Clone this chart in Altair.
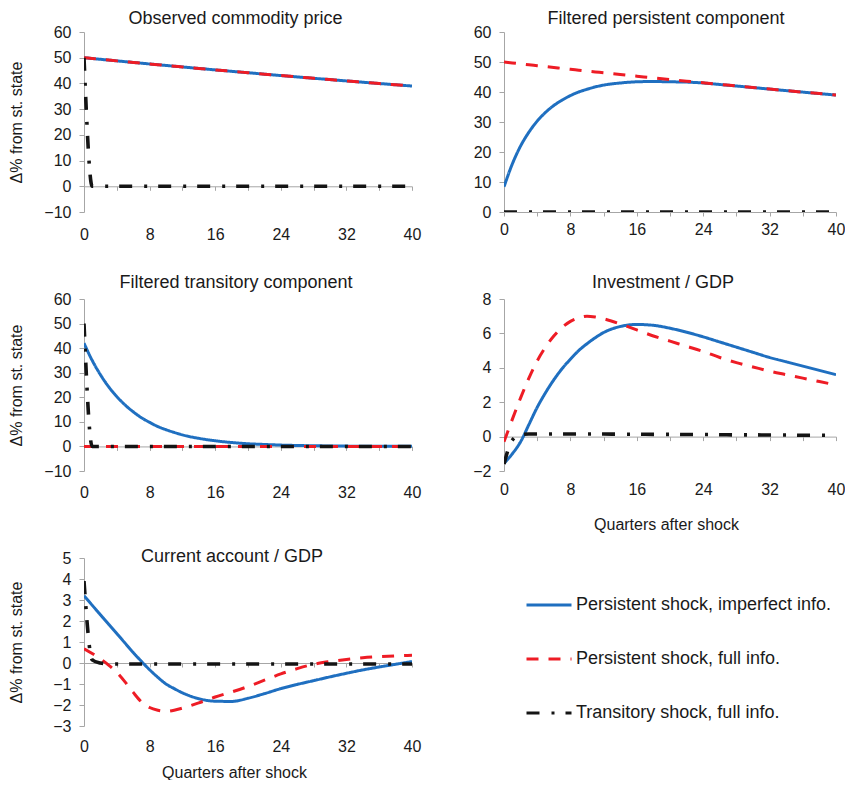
import altair as alt
import pandas as pd

FONT = "Liberation Sans"
TEXT = "#1a1a1a"
AXIS = "#a6a6a6"

QUARTERS = [0, 1, 2, 3, 4, 5, 6, 7, 8, 9, 10, 11, 12, 14, 16, 18, 20, 22, 24, 26, 28, 30, 32, 34, 36, 38, 40]

SERIES = ["Persistent shock, imperfect info.", "Persistent shock, full info.", "Transitory shock, full info."]
COLORS = ["#1f6fc0", "#ee1c25", "#141414"]
DASHES = [[1, 0], [12, 10], [13, 12, 3, 11]]
WIDTHS = [3, 3, 3.6]

# Observed commodity price
price_imperfect = [50.0, 49.69, 49.38, 49.07, 48.77, 48.47, 48.17, 47.87, 47.57, 47.28, 46.99, 46.70, 46.41,
                   45.83, 45.27, 44.71, 44.16, 43.61, 43.07, 42.54, 42.01, 41.49, 40.98, 40.47, 39.97, 39.48, 38.99]
price_full = [50.0, 49.69, 49.38, 49.07, 48.77, 48.47, 48.17, 47.87, 47.57, 47.28, 46.99, 46.70, 46.41,
              45.83, 45.27, 44.71, 44.16, 43.61, 43.07, 42.54, 42.01, 41.49, 40.98, 40.47, 39.97, 39.48, 38.99]
price_trans = [50.0, 0, 0, 0, 0, 0, 0, 0, 0, 0, 0, 0, 0, 0, 0, 0, 0, 0, 0, 0, 0, 0, 0, 0, 0, 0, 0]

# Filtered persistent component
pers_imperfect = [8.4, 16.0, 22.0, 26.6, 30.3, 33.2, 35.5, 37.3, 38.8, 40.0, 40.9, 41.7, 42.3,
                  43.0, 43.4, 43.5, 43.4, 43.3, 43.0, 42.5, 42.0, 41.48, 40.97, 40.46, 39.96, 39.47, 38.98]
pers_full = [50.0, 49.69, 49.38, 49.07, 48.77, 48.47, 48.17, 47.87, 47.57, 47.28, 46.99, 46.70, 46.41,
             45.83, 45.27, 44.71, 44.16, 43.61, 43.07, 42.54, 42.01, 41.49, 40.98, 40.47, 39.97, 39.48, 38.99]
pers_trans = [0, 0, 0, 0, 0, 0, 0, 0, 0, 0, 0, 0, 0, 0, 0, 0, 0, 0, 0, 0, 0, 0, 0, 0, 0, 0, 0]

# Filtered transitory component
trans_imperfect = [42.0, 35.0, 29.2, 24.3, 20.3, 16.9, 14.1, 11.7, 9.8, 8.1, 6.8, 5.7, 4.7,
                   3.3, 2.3, 1.6, 1.1, 0.8, 0.55, 0.38, 0.27, 0.19, 0.13, 0.09, 0.06, 0.04, 0.03]
trans_full = [0, 0, 0, 0, 0, 0, 0, 0, 0, 0, 0, 0, 0, 0, 0, 0, 0, 0, 0, 0, 0, 0, 0, 0, 0, 0, 0]
trans_trans = [50.0, 0, 0, 0, 0, 0, 0, 0, 0, 0, 0, 0, 0, 0, 0, 0, 0, 0, 0, 0, 0, 0, 0, 0, 0, 0, 0]

# Investment / GDP
inv_imperfect = [-1.55, -1.0, -0.3, 0.7, 1.7, 2.55, 3.3, 3.95, 4.5, 5.0, 5.4, 5.75, 6.05,
                 6.4, 6.52, 6.47, 6.3, 6.07, 5.8, 5.5, 5.2, 4.9, 4.6, 4.35, 4.1, 3.85, 3.6]
inv_full = [-0.3, 1.0, 2.25, 3.4, 4.4, 5.2, 5.85, 6.35, 6.7, 6.9, 7.0, 6.95, 6.85,
            6.55, 6.2, 5.85, 5.55, 5.25, 4.95, 4.6, 4.3, 4.05, 3.8, 3.6, 3.4, 3.2, 3.0]
inv_trans = [-1.6, -0.2, 0.1, 0.15, 0.15, 0.15, 0.15, 0.15, 0.15, 0.15, 0.15, 0.15, 0.15,
             0.14, 0.14, 0.13, 0.13, 0.12, 0.12, 0.11, 0.1, 0.1, 0.09, 0.09, 0.08, 0.08, 0.07]

# Current account / GDP
ca_imperfect = [3.2, 2.75, 2.3, 1.85, 1.4, 0.95, 0.5, 0.08, -0.32, -0.68, -1.0, -1.22, -1.42,
                -1.7, -1.82, -1.83, -1.68, -1.46, -1.22, -1.02, -0.84, -0.66, -0.49, -0.33, -0.19, -0.06, 0.07]
ca_full = [0.68, 0.45, 0.2, -0.1, -0.45, -0.9, -1.4, -1.85, -2.12, -2.25, -2.3, -2.25, -2.15,
           -1.9, -1.62, -1.38, -1.12, -0.82, -0.52, -0.27, -0.06, 0.07, 0.17, 0.25, 0.3, 0.34, 0.37]
ca_trans = [3.9, 0.15, 0.0, -0.05, -0.05, -0.05, -0.05, -0.05, -0.05, -0.05, -0.05, -0.05, -0.05,
            -0.05, -0.05, -0.05, -0.05, -0.05, -0.05, -0.05, -0.05, -0.05, -0.05, -0.05, -0.05, -0.05, -0.05]

YTITLE = "Δ% from st. state"
XTITLE = "Quarters after shock"

LEGEND = alt.Legend(
    title=None, orient="none", legendX=441, legendY=549,
    symbolType="stroke", symbolSize=2025, symbolStrokeWidth=3,
    labelFont=FONT, labelFontSize=18, labelColor=TEXT, labelOffset=3, labelLimit=0,
    rowPadding=21, padding=0,
)


def panel(title, series_values, ydom, yvals, w, h, ytitle, xtitle, title_dx, title_offset,
          lab_pad, xtitle_x=None, xtitle_y=None):
    rows = []
    for name, vals in zip(SERIES, series_values):
        for q, v in zip(QUARTERS, vals):
            rows.append({"q": q, "v": v, "s": name})
    df = pd.DataFrame(rows)
    zero_off = -h * (0 - ydom[0]) / (ydom[1] - ydom[0])

    xaxis_kw = dict(
        values=list(range(0, 41, 4)),
        labelExpr="datum.value % 8 == 0 ? datum.label : ''",
        offset=zero_off, labelPadding=lab_pad, tickSize=4,
        labelFlush=False, labelOverlap=False,
    )
    if xtitle:
        xaxis_kw.update(title=xtitle, titleX=xtitle_x, titleY=xtitle_y, titleAlign="center",
                        titleBaseline="top")
    else:
        xaxis_kw.update(title=None)

    yaxis_kw = dict(values=yvals, tickSize=5, labelPadding=8, labelFlush=False, labelOverlap=False)
    if ytitle:
        yaxis_kw.update(title=ytitle, minExtent=36, maxExtent=36, titlePadding=24)
    else:
        yaxis_kw.update(title=None)

    base = alt.Chart(df).encode(
        x=alt.X("q:Q", scale=alt.Scale(domain=[0, 40], nice=False, zero=False), axis=alt.Axis(**xaxis_kw)),
        y=alt.Y("v:Q", scale=alt.Scale(domain=ydom, nice=False, zero=False), axis=alt.Axis(**yaxis_kw)),
        color=alt.Color("s:N", scale=alt.Scale(domain=SERIES, range=COLORS), legend=LEGEND),
        strokeDash=alt.StrokeDash("s:N", scale=alt.Scale(domain=SERIES, range=DASHES), legend=LEGEND),
    )
    layers = [
        base.transform_filter(alt.datum.s == name).mark_line(strokeWidth=sw, interpolate="monotone", clip=True)
        for name, sw in zip(SERIES, WIDTHS)
    ]
    return alt.layer(*layers).properties(
        width=w, height=h,
        title=alt.TitleParams(title, fontSize=18, font=FONT, fontWeight="normal", color=TEXT,
                              anchor="middle", dx=title_dx, offset=title_offset, baseline="alphabetic"),
    )


p1 = panel("Observed commodity price", [price_imperfect, price_full, price_trans],
           [-10, 60], list(range(-10, 61, 10)), 328, 180, YTITLE, None, -12.5, -18, 36.7)
p2 = panel("Filtered persistent component", [pers_imperfect, pers_full, pers_trans],
           [0, 60], list(range(0, 61, 10)), 332, 180, None, None, -4, -18, 5)
p3 = panel("Filtered transitory component", [trans_imperfect, trans_full, trans_trans],
           [-10, 60], list(range(-10, 61, 10)), 328, 172, YTITLE, None, -12, -15, 33.6)
p4 = panel("Investment / GDP", [inv_imperfect, inv_full, inv_trans],
           [-2, 8], list(range(-2, 9, 2)), 332, 172, None, XTITLE, -7, -15, 40.4, 162, 79.5)
p5 = panel("Current account / GDP", [ca_imperfect, ca_full, ca_trans],
           [-3, 5], list(range(-3, 6, 1)), 328, 168, YTITLE, XTITLE, -16, -29.5, 71, 150, 101)

chart = alt.concat(
    p1, p2, p3, p4, p5, columns=2, bounds="flush", align="each",
    spacing={"row": 87, "column": 92},
).properties(
    padding={"left": 0, "top": 2, "right": 0, "bottom": 0}
).configure_view(stroke=None).configure_axis(
    grid=False, domainColor=AXIS, tickColor=AXIS, domainWidth=1, tickWidth=1,
    labelFont=FONT, labelFontSize=16, labelColor=TEXT,
    titleFont=FONT, titleFontSize=16, titleFontWeight="normal", titleColor=TEXT,
)

chart.save("out.html", embed_options={"renderer": "svg", "actions": False})
